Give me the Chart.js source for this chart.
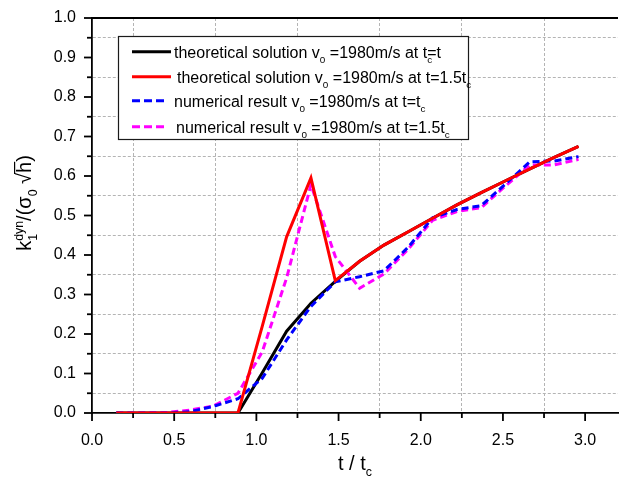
<!DOCTYPE html>
<html>
<head>
<meta charset="utf-8">
<script src="https://cdn.jsdelivr.net/npm/chart.js@4.4.0/dist/chart.umd.min.js"></script>
<style>
  body { margin: 0; background: #fff; }
</style>
</head>
<body>
<canvas id="mycanvas" width="623" height="482"></canvas>
<script>
// t / tc sample points
var tRatio = [0.148, 0.296, 0.444, 0.592, 0.740, 0.888, 1.036, 1.184, 1.332, 1.480,
              1.628, 1.776, 1.924, 2.072, 2.220, 2.368, 2.516, 2.664, 2.812, 2.960];

// theoretical solution, v0 = 1980 m/s, at t = tc
var theoryTc = [0, 0, 0, 0, 0, 0, 0.102, 0.207, 0.278, 0.333,
                0.384, 0.425, 0.459, 0.493, 0.527, 0.558, 0.588, 0.618, 0.647, 0.675];
// theoretical solution, at t = 1.5 tc
var theory15 = [0, 0, 0, 0, 0, 0, 0.220, 0.446, 0.595, 0.335,
                0.384, 0.425, 0.459, 0.493, 0.527, 0.558, 0.588, 0.618, 0.647, 0.675];
// numerical result, at t = tc
var numTc = [0, 0, 0, 0.003, 0.017, 0.036, 0.088, 0.185, 0.270, 0.332,
             0.345, 0.360, 0.420, 0.494, 0.515, 0.525, 0.580, 0.636, 0.638, 0.649];
// numerical result, at t = 1.5 tc
var num15 = [0, 0, 0.001, 0.007, 0.018, 0.050, 0.155, 0.342, 0.578, 0.396,
             0.316, 0.352, 0.415, 0.488, 0.510, 0.520, 0.575, 0.628, 0.628, 0.642];

var xTickLabels = ['0.0', '0.5', '1.0', '1.5', '2.0', '2.5', '3.0'];
var yTickLabels = ['0.0', '0.1', '0.2', '0.3', '0.4', '0.5', '0.6', '0.7', '0.8', '0.9', '1.0'];

var FONT = '"Liberation Sans", Arial, Helvetica, sans-serif';
var GRID = '#b4b4b4';

function pts(ys) {
	return tRatio.map(function(x, i) { return { x: x, y: ys[i] }; });
}

function labelFor(list, v) {
	for (var i = 0; i < list.length; i++) {
		if (Math.abs(parseFloat(list[i]) - v) < 1e-6) return list[i];
	}
	return '';
}

// text with sub/superscripts: parts = [{t, sub, sup, stay, bar}]
function richText(ctx, parts, size, x, y, draw) {
	var cx = x;
	parts.forEach(function(p) {
		var small = p.sub || p.sup;
		var s = small ? size * 0.62 : size;
		ctx.font = s + 'px ' + FONT;
		var dy = p.sub ? size * 0.3 : (p.sup ? -size * 0.42 : 0);
		var w = ctx.measureText(p.t).width;
		if (draw) {
			ctx.fillText(p.t, cx, y + dy);
			if (p.bar) {
				ctx.save();
				ctx.lineWidth = 1.2;
				ctx.beginPath();
				ctx.moveTo(cx - 1, y - size * 0.82);
				ctx.lineTo(cx + w, y - size * 0.82);
				ctx.stroke();
				ctx.restore();
			}
		}
		if (!p.stay) cx += w;
	});
	return cx - x;
}

var legendRows = [
	{ color: '#000000', dash: [], parts: [{t: 'theoretical solution v'}, {t: '0', sub: true}, {t: ' =1980m/s at t'}, {t: 'c', sub: true, stay: true}, {t: '=t'}], dx: 0 },
	{ color: '#ff0000', dash: [], parts: [{t: 'theoretical solution v'}, {t: '0', sub: true}, {t: ' =1980m/s at t=1.5t'}, {t: 'c', sub: true}], dx: 3 },
	{ color: '#0000ff', dash: [8, 4], parts: [{t: 'numerical result v'}, {t: '0', sub: true}, {t: ' =1980m/s at t=t'}, {t: 'c', sub: true}], dx: 0 },
	{ color: '#ff00ff', dash: [8, 4], parts: [{t: 'numerical result v'}, {t: '0', sub: true}, {t: ' =1980m/s at t=1.5t'}, {t: 'c', sub: true}], dx: 2 }
];

var decor = {
	id: 'decor',
	afterDraw: function(chart) {
		var ctx = chart.ctx;
		var a = chart.chartArea;
		var xs = chart.scales.x, ys = chart.scales.y;
		ctx.save();
		ctx.strokeStyle = '#000';
		ctx.fillStyle = '#000';
		ctx.lineWidth = 1.8;

		// tick marks (major long, minor short)
		xs.ticks.forEach(function(t) {
			var major = labelFor(xTickLabels, t.value) !== '';
			var minor = Math.round(t.value * 100) % 50 === 25;
			if (!major && !minor) return;
			var px = xs.getPixelForValue(t.value);
			ctx.beginPath();
			ctx.moveTo(px, a.bottom);
			ctx.lineTo(px, a.bottom + (major ? 8 : 5));
			ctx.stroke();
		});
		ys.ticks.forEach(function(t) {
			var major = labelFor(yTickLabels, t.value) !== '';
			var minor = Math.round(t.value * 100) % 10 === 5;
			if (!major && !minor) return;
			var py = ys.getPixelForValue(t.value);
			ctx.beginPath();
			ctx.moveTo(a.left, py);
			ctx.lineTo(a.left - (major ? 8 : 5), py);
			ctx.stroke();
		});

		// top frame line
		ctx.beginPath();
		ctx.moveTo(a.left, a.top);
		ctx.lineTo(a.right, a.top);
		ctx.stroke();

		// legend box
		var bx = 118, by = 36, bw = 350, bh = 103;
		ctx.fillStyle = '#fff';
		ctx.fillRect(bx, by, bw, bh);
		ctx.lineWidth = 1.2;
		ctx.strokeStyle = '#1a1a1a';
		ctx.strokeRect(bx + 0.5, by + 0.5, bw, bh);
		var rowY = [51.7, 76.7, 100.7, 126.7];
		legendRows.forEach(function(r, i) {
			ctx.strokeStyle = r.color;
			ctx.lineWidth = 3;
			ctx.setLineDash(r.dash);
			ctx.beginPath();
			ctx.moveTo(132, rowY[i]);
			ctx.lineTo(r.dash.length ? 164 : 171, rowY[i]);
			ctx.stroke();
			ctx.setLineDash([]);
			ctx.fillStyle = '#000';
			ctx.textBaseline = 'alphabetic';
			ctx.textAlign = 'left';
			richText(ctx, r.parts, 16, 174 + r.dx, rowY[i] + 6.5, true);
		});

		// x axis title
		ctx.fillStyle = '#000';
		ctx.strokeStyle = '#000';
		var xt = [{t: 't / t'}, {t: 'c', sub: true}];
		var w = richText(ctx, xt, 20, 0, 0, false);
		richText(ctx, xt, 20, (a.left + a.right) / 2 - w / 2, 470, true);

		// y axis title
		var yt = [{t: 'k'}, {t: '1', sub: true, stay: true}, {t: 'dyn', sup: true}, {t: '/(\u03c3'}, {t: '0', sub: true},
		          {t: ' \u221a'}, {t: 'h', bar: true}, {t: ')'}];
		var wy = richText(ctx, yt, 20, 0, 0, false);
		ctx.translate(31, 203);
		ctx.rotate(-Math.PI / 2);
		richText(ctx, yt, 20, -wy / 2, 0, true);
		ctx.restore();
	}
};

var ctx = document.getElementById('mycanvas');

var chart = new Chart(ctx, {
	type: 'line',
	data: {
		datasets: [
			{ label: 'theoretical solution t=tc', data: pts(theoryTc), borderColor: '#000000', borderWidth: 3, order: 3 },
			{ label: 'theoretical solution t=1.5tc', data: pts(theory15), borderColor: '#ff0000', borderWidth: 3, order: 0 },
			{ label: 'numerical result t=tc', data: pts(numTc), borderColor: '#0000ff', borderWidth: 3, borderDash: [7, 4], order: 1 },
			{ label: 'numerical result t=1.5tc', data: pts(num15), borderColor: '#ff00ff', borderWidth: 3, borderDash: [7, 4], order: 2 }
		]
	},
	options: {
		responsive: false,
		animation: false,
		layout: { padding: { top: 18, right: 5, left: 0, bottom: 0 } },
		elements: {
			point: { radius: 0 },
			line: { tension: 0, fill: false, borderJoinStyle: 'miter' }
		},
		plugins: {
			legend: { display: false },
			tooltip: { enabled: false }
		},
		scales: {
			x: {
				type: 'linear',
				min: 0,
				max: 3.2,
				afterFit: function(s) { s.height = 69; },
				ticks: {
					stepSize: 0.25,
					includeBounds: false,
					autoSkip: false,
					maxRotation: 0,
					padding: 10,
					color: '#000',
					font: { family: FONT, size: 16 },
					callback: function(v) { return labelFor(xTickLabels, v); }
				},
				grid: {
					color: function(c) {
						return c.tick && Math.round(c.tick.value * 100) % 50 === 25 ? GRID : 'rgba(0,0,0,0)';
					},
					lineWidth: 1,
					tickLength: 8,
					tickColor: 'rgba(0,0,0,0)'
				},
				border: { color: '#000', width: 1.8, dash: [3, 2] }
			},
			y: {
				min: 0,
				max: 1,
				afterFit: function(s) { s.width = 92; },
				ticks: {
					stepSize: 0.05,
					autoSkip: false,
					padding: 8,
					color: '#000',
					font: { family: FONT, size: 16 },
					callback: function(v) { return labelFor(yTickLabels, v); }
				},
				grid: {
					color: function(c) {
						return c.tick && Math.round(c.tick.value * 100) % 10 === 5 ? GRID : 'rgba(0,0,0,0)';
					},
					lineWidth: 1,
					tickLength: 8,
					tickColor: 'rgba(0,0,0,0)'
				},
				border: { color: '#000', width: 1.8, dash: [3, 2] }
			}
		}
	},
	plugins: [decor]
});
</script>
</body>
</html>
